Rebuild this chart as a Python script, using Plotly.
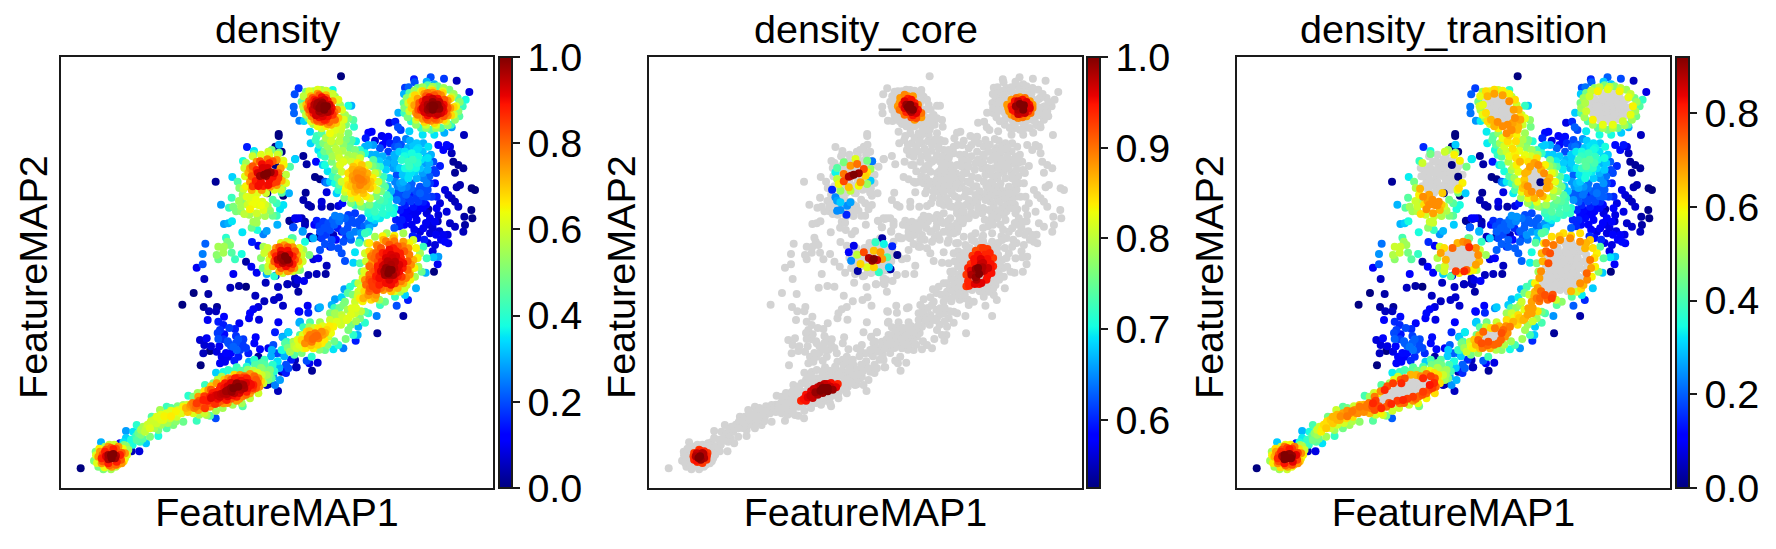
import plotly.graph_objects as go

# Embedding coordinates are in FeatureMAP plot units (both axes run 0-1296).
# Sparse cells: the transition value equals the density value (x, y, value).
sparse_right = [
 (932,1069,.12),(922,1066,.12),(914,1049,.15),(942,1042,.08),(962,1056,.1),(982,1054,.12),(975,1042,.12),(965,1029,.12),
 (987,1034,.15),(1007,1044,.18),(1002,1024,.2),(982,1009,.18),(957,1019,.2),(937,1029,.28),(922,1029,.3),(912,1024,.3),
 (1035,1047,.25),(1047,1042,.3),(1067,1034,.32),(1087,1034,.3),(1102,1024,.35),(1097,994,.3),(1072,994,.38),(1052,1004,.38),
 (1032,1009,.35),(1015,1009,.33),(1002,994,.3),(1022,984,.4),(1042,979,.42),(1062,974,.38),(1032,959,.38),(1052,949,.35),
 (1077,959,.32),(1092,974,.28),(1117,979,.2),(1132,1029,.12),(1147,1014,.12),(1157,1029,.13),(1167,1024,.08),(1172,1004,.05),
 (1177,979,.02),(1192,969,.02),(1207,959,.02),(1182,946,.02),(1119,954,.18),(1137,966,.15),(1087,929,.25),(1067,929,.3),
 (1042,929,.35),(1027,919,.3),(1007,939,.2),(997,959,.28),(992,974,.2),(1002,919,.25),(1037,904,.25),(1012,889,.2),
 (1007,864,.25),(1027,879,.15),(1042,869,.18),(1057,884,.15),(1077,904,.2),(1092,894,.2),(1107,914,.18),(1122,914,.13),
 (1097,874,.2),(1112,874,.18),(1152,894,.08),(1162,879,.07),(1172,869,.05),(1182,859,.05),(1192,844,.06),(1197,909,.04),
 (1187,902,.04),(1232,899,0),(1242,894,0),(1137,854,.08),(1127,839,.1),(1102,836,.03),(1097,824,.08),(1107,809,.1),
 (1122,799,.1),(1132,819,.08),(1157,829,.08),(1032,849,.15),(1017,834,.15),(1037,834,.12),(1062,819,.1),(1067,804,.1),
 (1042,809,.12),(1022,804,.15),(1087,779,.1),(1077,769,.08),(1107,764,.08),(1122,729,.08),(1147,759,.1),(1152,739,.12),
 (1162,734,.1),(1167,794,.06),(1182,784,.06),(1207,769,.05),(1212,789,.03),(1210,814,.03),(1234,809,.01),(1231,834,.01),
 (1052,914,.22),(1022,859,.2),(1072,844,.12),(1087,859,.15),(1057,844,.14),(1077,884,.22),(1097,914,.25),(1017,914,.28),
 (1127,874,.15),(1072,859,.18),(977,974,.3),(1017,959,.33),(1047,959,.38),(1062,949,.33),(1012,1024,.22),(1067,1014,.35),
 (1000,875,.2),(1015,875,.2),(1035,880,.22),(1050,900,.22),(1065,890,.2),(1085,875,.2),(1100,895,.2),(1095,850,.12),
 (1085,840,.12),(1070,830,.1),(1050,830,.1),(1040,820,.1),(1027,820,.12),(1005,805,.15),(1000,780,.2),(1015,785,.15),
 (1030,790,.12),(1052,790,.1),(1060,775,.1),(1095,795,.1),(1105,790,.08),(1115,780,.08),(1130,800,.05),(1135,770,.08),
 (1140,745,.1),(1160,760,.08),(1055,755,.15),(1070,750,.12),(1090,745,.15),(1100,735,.08),(1115,710,.08),(1125,760,.1),
 (1000,1000,.3),(1020,1030,.2),(1040,1020,.3),(1057,1025,.32),(1085,1010,.32),(1110,1000,.3),(1105,975,.3),(1100,955,.3),
 (1085,945,.28),(1105,935,.22),(1125,945,.18),(1100,990,.35),(1000,975,.3),(1010,960,.3),(1025,940,.32),(1045,940,.35),
 (1065,960,.38),(1080,985,.35),(1055,985,.42),(1030,995,.38),(1072,1020,.34),(1010,905,.25),(1022,900,.27),(1040,890,.22),
 (1015,870,.2),(1050,860,.18),(1065,870,.18),(990,890,.3),(980,905,.3),(985,930,.32),(975,955,.33),(955,980,.33),
 (930,1000,.3),(945,1000,.3),(965,995,.3),(985,985,.28),(1042,1000,.36),(1070,975,.4),(1045,965,.42),
]
sparse_middle = [
 (822,817,.25),(837,814,.25),(862,819,.18),(882,824,.18),(902,809,.2),(872,804,.2),(852,809,.22),(897,784,.2),
 (862,794,.2),(922,794,.25),(939,794,.28),(912,764,.38),(922,769,.4),(897,744,.3),(882,769,.25),(847,739,.2),
 (812,744,.2),(767,802,.15),(787,799,.18),(802,794,.2),(807,774,.2),(777,769,.2),(782,749,.18),(725,769,.28),
 (722,809,.05),(732,799,.03),(687,801,.02),(702,809,.1),(712,809,.1),(732,789,.05),(752,749,.03),(807,724,.15),
 (817,759,.05),(842,769,.1),(867,759,.25),(727,864,.04),(742,849,.04),(750,844,.03),(782,859,.08),(782,844,.06),
 (809,844,.03),(832,846,.08),(844,854,.13),(797,887,.08),(734,886,.02),(762,933,.01),(777,926,.01),(792,919,.2),
 (727,996,.02),(737,971,.03),(702,986,.33),(765,979,.13),(785,969,.33),(908,917,0),(840,1235,0),
 (729,621,.1),(702,629,.05),(702,614,.05),(679,611,.02),(712,589,.03),(742,639,.05),(767,642,.05),(794,642,.03),
 (797,667,.05),(740,547,.1),(742,526,.15),(715,529,.08),(777,542,.3),(772,539,.25),(697,782,.2),(725,771,.28),
 (757,749,.3),(747,754,.05),(775,754,.03),(792,732,.2),(777,714,.2),(812,724,.2),(832,719,.2),(842,704,.2),
 (852,681,.2),(882,707,.35),(877,676,.33),(772,689,.1),(757,686,.08),(1130,671,.1),(1119,649,0),(1041,564,.15),
 (1007,547,.2),(1027,516,.03),(949,464,.02),(947,516,.25),(884,442,.15),(737,382,.2),(745,374,.1),(770,376,.08),
 (753,352,.02),(705,362,.05),(682,467,.28),(665,454,.25),
 (847,770,.2),(860,780,.2),(880,795,.2),(895,800,.2),(910,785,.22),(925,780,.3),(900,765,.28),(870,745,.22),
 (855,750,.18),(830,780,.15),(820,790,.22),(835,800,.24),(815,805,.22),(790,780,.2),(775,785,.18),(760,790,.12),
 (795,760,.18),(825,745,.12),
]
sparse_left = [
 (653,1062,0),(653,1056,0),(643,1024,0),(662,1009,0),(464,919,.02),(619,884,0),(667,877,0),(643,969,0),(662,934,0),
 (685,802,.01),(705,807,.05),(697,782,.1),(592,727,.1),(558,1023,.15),(425,702,.25),(425,671,.2),(407,661,.1),
 (430,627,.05),(398,585,0),(442,582,.03),(508,601,.05),(534,606,.03),(555,604,0),(517,642,.1),(555,679,.03),
 (571,664,.1),(587,646,.1),(617,642,.3),(644,637,.08),(614,616,.05),(651,603,.05),(680,611,.05),(705,611,.05),
 (710,624,.08),(583,577,.05),(610,560,.05),(639,564,.06),(654,572,.06),(666,547,.06),(713,530,.12),(592,543,.08),
 (577,536,.1),(567,524,.12),(564,509,.1),(594,505,.08),(652,497,.1),(715,496,.3),(535,494,.1),(364,550,0),
 (428,543,.02),(444,530,.05),(465,530,.05),(468,543,.02),(440,504,.1),(489,514,.12),(472,499,.15),(487,489,.15),
 (477,474,.17),(522,477,.15),(490,461,.13),(417,444,.07),(437,449,.1),(430,429,.07),(472,447,.2),(487,446,.17),
 (525,456,.17),(532,446,.2),(547,446,.18),(502,434,.2),(584,452,.12),(580,434,.12),(597,416,.12),(517,424,.22),
 (527,414,.22),(537,414,.18),(447,411,0),(427,404,.05),(467,409,.08),(482,394,.1),(502,394,.1),(477,374,.1),
 (492,379,.1),(532,394,.15),(520,382,.15),(562,404,.15),(592,394,.03),(419,368,0),(465,346,.33),(487,348,.38),
 (502,354,.4),(527,362,.42),(564,379,.3),(557,364,.4),(622,419,.1),(637,429,.2),(647,404,.2),(662,404,.2),
 (632,414,.3),(667,414,.35),(682,467,.33),(665,452,.3),(642,467,.15),(677,439,.4),(702,384,.05),(707,362,.05),
 (667,354,.12),(662,349,.03),(682,359,.2),(651,291,.05),(622,311,0),(657,324,.28),(637,334,.28),(617,309,.05),
 (642,309,.25),(647,374,.3),(464,209,.2),(212,110,.05),(235,110,.08),(177,134,.1),(120,137,.3),(59,59,0),
 (630,395,.3),(650,380,.35),(670,395,.3),(690,410,.3),(640,350,.4),(620,355,.45),(600,360,.5),(580,385,.4),
 (610,385,.42),(600,375,.45),(635,370,.4),(655,360,.3),(675,370,.2),(690,385,.15),(675,345,.15),
 (500,440,.2),(510,425,.2),(495,405,.12),(510,405,.12),(545,430,.18),(555,420,.18),(525,435,.2),(505,480,.18),
 (475,425,.1),(470,465,.18),(450,425,.08),
]

# Clustered cells: x, y, density, transition (None where the cell counts as core).
cluster_a = [
 (713,1199,.17,.17),(701,1181,.2,.2),(698,1144,.22,.22),(699,1124,.22,.22),(715,1102,.25,.25),(729,1101,.33,.33),(815,1194,.37,.37),
 (862,1147,.38,.38),(871,1147,.3,.3),(735,1189,.5,.5),(757,1190,.55,.55),(782,1194,.55,.55),(803,1186,.5,.5),(822,1174,.52,.52),
 (837,1149,.55,.55),(852,1119,.55,.55),(722,1159,.45,.45),(729,1134,.5,.5),(742,1109,.48,.48),(757,1092,.55,.55),(782,1079,.6,.6),
 (750,1175,.72,.66),(770,1183,.75,.68),(795,1178,.72,.68),(815,1160,.74,.7),(828,1135,.75,.68),(832,1110,.7,.7),(736,1150,.7,.58),
 (745,1125,.74,.62),(760,1105,.75,.66),(780,1098,.76,.7),(810,1090,.72,.7),(825,1095,.7,.68),
 (760,1165,.88,None),(782,1172,.9,None),(800,1162,.88,None),(812,1140,.9,None),(815,1120,.86,None),(750,1145,.88,None),(757,1125,.88,None),
 (775,1112,.9,None),(795,1105,.86,None),(770,1155,.97,None),(785,1155,.98,None),(798,1145,1.0,None),(775,1140,.99,None),(790,1135,1.0,None),
 (800,1128,.96,None),(782,1125,.95,None),(768,1145,.97,None),
 (728,1175,.58,.58),(745,1190,.62,.62),(770,1195,.62,.62),(795,1192,.6,.6),(815,1182,.6,.6),(832,1165,.62,.62),(843,1135,.62,.66),(848,1105,.62,.68),
 (726,1145,.58,.56),(735,1120,.58,.58),(750,1100,.62,.62),(770,1085,.64,.66),(795,1085,.65,.7),(820,1080,.62,.68),(838,1092,.6,.66),(840,1075,.6,.66),
 (755,1170,.82,None),(775,1178,.82,None),(795,1170,.82,None),(808,1150,.82,None),(820,1128,.8,None),(822,1105,.8,None),(745,1135,.82,None),
 (768,1105,.82,None),(785,1100,.82,None),(805,1098,.8,None),(744,1160,.8,None),(765,1160,.92,None),(790,1165,.92,None),(805,1150,.93,None),
 (808,1130,.92,None),(755,1135,.93,None),(765,1118,.93,None),(785,1115,.92,None),(800,1115,.9,None),(780,1148,.99,None),(790,1145,1,None),
 (775,1130,.97,None),(760,1150,.95,None),
 (765,1140,.93,None),(780,1160,.95,None),(795,1135,.96,None),(770,1125,.93,None),(808,1120,.86,None),(790,1105,.88,None),(750,1155,.85,None),
 (740,1140,.78,None),(752,1115,.78,None),(770,1100,.78,None),(815,1110,.8,None),(800,1092,.75,None),
]
cluster_b = [
 (1059,1226,.15,.15),(1061,1217,.2,.2),(1109,1232,.2,.2),(1097,1219,.3,.3),(1120,1211,.3,.3),(1149,1228,.18,.18),(1187,1222,.05,.05),
 (1225,1188,.08,.08),(1032,1201,.18,.18),(1043,1202,.22,.22),(1029,1182,.3,.3),(1209,1059,.05,.05),(1012,1126,.3,.3),(985,1096,.08,.08),
 (1003,1099,.15,.15),(1011,1082,.2,.2),(1019,1074,.18,.18),(1214,1165,.38,.38),(1045,1070,.33,.33),(1085,1060,.35,.35),(1120,1060,.35,.35),
 (1150,1066,.3,.3),(1172,1082,.28,.28),
 (1045,1185,.45,.45),(1070,1200,.48,.48),(1100,1208,.45,.45),(1130,1205,.47,.47),(1165,1195,.5,.5),(1190,1170,.45,.45),(1205,1145,.42,.42),
 (1195,1115,.45,.45),(1170,1090,.42,.42),(1140,1080,.45,.45),(1110,1075,.45,.45),(1080,1080,.42,.42),(1050,1100,.4,.4),(1030,1125,.42,.42),
 (1028,1155,.45,.45),(1055,1175,.6,.55),(1080,1190,.62,.6),(1110,1196,.6,.58),(1145,1190,.62,.6),(1172,1172,.6,.58),(1185,1145,.62,.6),
 (1178,1120,.6,.58),(1155,1100,.6,.55),(1125,1090,.62,.58),(1095,1090,.6,.58),(1065,1105,.6,.6),(1045,1130,.6,.55),(1042,1155,.6,.52),
 (1070,1168,.74,None),(1090,1182,.75,None),(1115,1186,.75,None),(1140,1178,.76,None),(1160,1162,.76,None),(1168,1140,.75,None),(1160,1118,.76,None),
 (1135,1105,.75,None),(1110,1102,.76,None),(1085,1108,.75,None),(1065,1125,.75,None),(1060,1148,.74,None),
 (1085,1160,.88,None),(1105,1172,.9,None),(1130,1168,.9,None),(1148,1150,.9,None),(1148,1130,.9,None),(1125,1118,.9,None),(1100,1118,.9,None),
 (1080,1135,.88,None),(1100,1150,.96,None),(1115,1158,.98,None),(1130,1150,.99,None),(1135,1138,.98,None),(1115,1135,1,None),(1100,1135,.97,None),
 (1120,1145,1,None),
 (1037,1170,.52,.5),(1060,1192,.54,.54),(1085,1202,.54,.54),(1115,1204,.54,.54),(1148,1200,.54,.54),(1178,1182,.54,.54),(1196,1158,.52,.5),
 (1192,1130,.52,.5),(1182,1105,.52,.5),(1160,1088,.52,.5),(1125,1080,.54,.52),(1095,1080,.52,.5),(1065,1090,.52,.5),(1040,1112,.5,.5),(1030,1140,.5,.5),
 (1062,1178,.68,None),(1085,1190,.68,None),(1115,1192,.68,None),(1145,1184,.68,None),(1168,1168,.68,None),(1178,1142,.68,None),(1170,1118,.68,None),
 (1148,1105,.68,None),(1120,1095,.68,None),(1090,1098,.68,None),(1070,1112,.68,None),(1052,1140,.68,None),(1050,1160,.68,None),
 (1075,1155,.82,None),(1095,1175,.82,None),(1120,1178,.82,None),(1150,1165,.82,None),(1160,1140,.82,None),(1148,1115,.82,None),(1120,1110,.82,None),
 (1095,1112,.82,None),(1072,1135,.82,None),(1090,1150,.92,None),(1105,1165,.92,None),(1125,1160,.92,None),(1140,1145,.93,None),(1140,1125,.92,None),
 (1115,1125,.93,None),(1090,1128,.92,None),(1108,1145,.99,None),(1125,1138,.98,None),
 (1085,1140,.93,None),(1095,1165,.93,None),(1115,1168,.94,None),(1135,1158,.94,None),(1145,1140,.92,None),(1130,1122,.94,None),(1105,1125,.94,None),
 (1075,1145,.82,None),(1100,1185,.78,None),(1130,1182,.78,None),(1155,1150,.8,None),(1155,1125,.8,None),(1125,1105,.8,None),(1100,1105,.8,None),
 (1070,1120,.78,None),(1115,1148,1,None),(1105,1140,.98,None),
]
stream_c = [
 (847,1114,.55,.62),(862,1109,.5,.58),(877,1104,.45,.48),(879,1084,.4,.45),(842,1084,.6,.66),(822,1074,.62,.7),(807,1064,.64,.7),(837,1059,.58,.6),
 (862,1064,.5,.5),(872,1044,.45,.45),(782,1064,.45,.48),(767,1056,.42,.42),(747,1069,.33,.33),(749,1034,.33,.33),(764,1044,.42,.42),(787,1034,.5,.5),
 (817,1034,.55,.58),(847,1029,.52,.52),(867,1019,.48,.48),(772,1014,.35,.35),(807,1009,.52,.55),(832,1004,.58,.6),(862,999,.55,.58),(882,1014,.5,.5),
 (897,1014,.4,.4),(912,1004,.38,.38),(792,994,.42,.42),(812,979,.5,.52),(792,969,.38,.38),(822,954,.48,.5),(847,979,.62,.66),(837,969,.62,.6),
 (872,979,.6,.62),(897,989,.6,.62),(922,969,.6,.6),(942,944,.6,.58),(952,919,.6,.58),(947,894,.6,.56),(927,869,.6,.58),(897,859,.6,.58),
 (872,869,.6,.58),(852,889,.6,.58),(842,919,.6,.58),(842,949,.6,.58),
 (877,964,.7,.68),(902,969,.7,.7),(919,944,.72,.7),(929,919,.7,.68),(927,899,.7,.68),(907,884,.7,.7),(882,889,.7,.7),(862,909,.68,.66),(862,944,.68,.66),
 (887,944,.76,None),(902,939,.76,None),(907,919,.77,None),(897,909,.77,None),(882,924,.76,None),(892,929,.78,None),
 (957,964,.4,.4),(937,984,.45,.45),(967,934,.42,.42),(972,904,.45,.45),(977,879,.42,.42),(957,864,.45,.45),(907,844,.45,.45),(882,849,.42,.42),
 (832,894,.4,.4),(822,914,.38,.38),(807,919,.33,.33),(797,916,.25,.25),(827,884,.33,.33),(922,834,.4,.4),(942,829,.42,.42),(962,844,.4,.4),
 (982,854,.4,.4),(997,824,.38,.38),(942,804,.33,.33),(957,809,.36,.36),(977,819,.38,.38),(992,834,.38,.38),(922,824,.38,.38),
 (855,1090,.5,.55),(830,1090,.62,.66),(815,1058,.6,.64),(795,1050,.56,.58),(775,1030,.42,.42),(800,1025,.54,.56),(835,1040,.58,.62),(855,1045,.5,.52),
 (825,1018,.58,.62),(845,1012,.56,.58),(810,1040,.6,.62),(790,1010,.48,.5),(835,990,.6,.62),(815,995,.55,.58),(855,985,.58,.6),(880,995,.56,.56),
 (900,1000,.5,.5),(868,1035,.45,.46),(885,1040,.36,.36),(780,1000,.38,.38),(800,950,.35,.35),(815,935,.42,.42),(830,930,.48,.5),(828,965,.52,.54),
 (935,965,.5,.5),(945,965,.45,.45),(950,945,.52,.52),(962,915,.46,.46),(960,890,.5,.5),(945,875,.5,.5),(925,850,.5,.5),(900,845,.5,.5),(870,855,.5,.5),
 (850,870,.5,.5),(835,910,.46,.46),(860,925,.65,.64),(870,950,.65,.66),(890,975,.66,.68),(910,955,.66,.66),(935,930,.66,.66),(935,905,.66,.66),
 (915,875,.66,.66),(890,870,.66,.66),(870,885,.66,.66),(855,900,.64,.64),(875,925,.72,None),(895,955,.73,None),(915,930,.73,None),(915,905,.73,None),
 (890,895,.73,None),(870,905,.7,.7),(935,845,.42,.42),(950,850,.42,.42),(970,860,.42,.42),(985,840,.4,.4),(965,825,.4,.4),(945,815,.38,.38),
 (930,810,.36,.36),(1000,840,.36,.36),(985,870,.38,.38),
 (875,955,.72,None),(890,950,.74,None),(905,950,.75,None),(915,925,.75,None),(920,915,.72,None),(905,895,.72,None),(885,905,.74,None),(875,935,.74,None),(900,925,.78,None),
]
cluster_e = [
 (654,1030,.3,.3),(579,1011,.35,.35),(579,1002,.45,.45),(546,981,.38,.38),(622,1009,.6,.55),(632,1014,.5,.5),(654,1006,.5,.5),(667,982,.62,.6),
 (703,987,.3,.3),(687,964,.45,.45),(514,933,.33,.33),(530,919,.45,.45),(548,898,.6,.66),(512,871,.42,.42),(480,850,.28,.28),(504,841,.42,.42),
 (517,844,.5,.5),(534,861,.55,.55),(525,830,.5,.5),(550,822,.58,.62),(557,874,.62,.7),(570,861,.62,.68),(604,859,.62,.7),(592,849,.62,.7),
 (567,836,.65,.7),(587,824,.6,.68),(607,834,.62,.66),(612,816,.55,.52),(627,832,.52,.52),(635,817,.48,.46),(647,817,.42,.42),(647,854,.42,.42),
 (667,849,.35,.35),(657,836,.35,.35),(664,899,.5,.62),(662,886,.45,.45),(684,884,.3,.3),(489,792,.28,.28),(502,794,.3,.3),(513,800,.35,.35),
 (577,799,.55,.55),(587,796,.55,.55),(572,781,.48,.48),(589,774,.38,.38),(607,761,.25,.25),(617,771,.28,.28),(649,790,.3,.3),(544,767,.35,.35),
 (433,733,.22,.22),(573,738,.15,.15),(495,751,.4,.4),(499,739,.5,.5),(472,724,.55,.55),(489,724,.55,.55),(507,729,.5,.5),(467,699,.52,.52),
 (487,706,.55,.55),(512,706,.45,.45),(542,702,.38,.38),(522,686,.42,.42),(472,686,.48,.48),
 (562,946,.72,None),(567,959,.75,None),(587,979,.75,None),(619,986,.78,None),(647,984,.75,None),(659,959,.75,None),(662,922,.72,None),(647,909,.75,None),
 (627,904,.75,None),(602,894,.75,None),(572,894,.72,None),(567,919,.75,None),
 (587,954,.88,None),(603,971,.9,None),(625,974,.88,None),(635,934,.9,None),(584,921,.88,None),(592,906,.9,None),(607,906,.88,None),(622,909,.9,None),
 (647,919,.85,None),(597,936,.97,None),(609,940,1.0,None),(619,944,1.0,None),(629,947,.98,None),(615,936,.98,None),
 (575,880,.62,.68),(585,865,.64,.7),(600,848,.64,.7),(612,850,.6,.64),(575,850,.64,.7),(560,850,.6,.62),(545,860,.52,.52),(540,845,.55,.55),(540,830,.52,.52),
 (565,820,.55,.55),(590,815,.55,.55),(620,845,.55,.55),(635,865,.45,.45),(545,880,.55,.6),(535,900,.52,.52),(550,960,.6,None),(555,975,.55,.55),
 (575,995,.6,None),(600,1000,.62,None),(625,998,.62,None),(650,1000,.6,.6),(668,970,.65,None),(675,940,.58,None),(675,915,.62,.6),(660,895,.6,.58),
 (640,895,.62,None),(615,885,.6,.64),(590,885,.62,None),(555,905,.65,None),(552,935,.62,None),(575,965,.82,None),(597,980,.82,None),(635,980,.82,None),
 (652,945,.82,None),(652,930,.85,None),(635,915,.85,None),(575,905,.85,None),(572,935,.82,None),(590,945,.92,None),(575,950,.78,None),(605,960,.92,None),
 (620,960,.92,None),(640,945,.92,None),(625,925,.9,None),(600,918,.9,None),
]
cluster_f = [
 (632,700,.72,None),(645,720,.75,.74),(670,728,.75,None),(695,722,.75,.8),(708,700,.75,None),(712,680,.72,None),(700,660,.75,None),(680,650,.75,.8),
 (655,650,.72,.78),(635,665,.72,None),(645,695,.88,None),(660,712,.9,None),(680,712,.9,None),(695,695,.88,None),(695,672,.88,None),(675,665,.9,None),
 (652,672,.88,None),(660,690,.97,None),(672,695,1.0,None),(680,685,1.0,None),(668,682,.98,None),
 (607,724,.55,.55),(692,749,.4,.4),(677,739,.6,.7),(695,749,.45,.45),(732,739,.38,.38),(727,714,.55,.55),(745,699,.5,.5),(722,699,.6,.7),
 (717,654,.5,.52),(707,654,.55,.6),(687,654,.72,.74),(600,690,.52,.52),(605,660,.48,.48),(620,650,.55,.55),(640,635,.4,.42),
 (620,720,.6,.62),(625,685,.62,.66),(622,665,.6,.56),(660,735,.62,.66),(690,735,.62,.72),(715,720,.62,.7),(725,680,.6,.66),(715,670,.62,.68),(665,645,.6,.62),
 (695,650,.6,.6),(610,705,.6,.68),(640,705,.82,None),(655,722,.82,None),(680,722,.82,None),(702,710,.82,None),(702,685,.82,None),(690,660,.82,None),(660,660,.82,None),
 (640,680,.82,None),(660,700,.94,None),(685,700,.92,None),(650,685,.94,None),(665,675,.95,None),(685,675,.94,None),
]
cluster_h = [
 (982,644,1,None),(992,654,1,None),(1002,679,.95,None),(987,674,.95,None),(972,639,.97,None),(997,639,.96,None),
 (942,614,.85,None),(967,619,.88,None),(1002,614,.85,None),(1022,634,.85,None),(1027,674,.9,None),(1017,704,.88,None),(997,719,.88,None),(977,704,.9,None),
 (962,679,.88,None),(952,654,.88,None),(932,619,.85,None),(927,599,.82,None),(947,594,.85,None),
 (912,624,.76,None),(922,579,.75,.76),(907,569,.72,.74),(942,569,.72,.78),(967,594,.75,None),(1027,614,.72,.7),(1047,644,.7,.74),(1057,684,.72,.72),
 (1042,719,.75,.66),(1027,739,.74,.7),(997,749,.72,.7),(967,744,.72,.7),(947,729,.75,.72),(937,704,.75,.76),(932,674,.75,.76),
 (912,704,.6,.66),(919,734,.55,.62),(942,754,.55,.62),(977,764,.55,.62),(1027,764,.55,.62),(1057,744,.6,.64),(1077,704,.55,.6),(1072,664,.55,.6),
 (1062,634,.55,.6),(1037,609,.6,.66),(1017,589,.55,.55),(892,589,.6,.66),(892,614,.58,.6),
 (894,736,.42,.42),(912,764,.42,.42),(897,674,.45,.45),(902,649,.5,.5),(1087,724,.42,.42),(1097,689,.42,.42),(1082,649,.48,.48),(1094,646,.3,.3),
 (1117,692,.32,.32),(1132,694,.28,.28),(1065,599,.3,.3),(1032,579,.33,.33),(1002,574,.42,.42),
 (882,614,.4,.4),(867,604,.4,.4),(850,596,.28,.28),(822,566,.28,.28),(842,572,.33,.33),(852,559,.5,.55),(882,559,.6,.68),(897,569,.66,.72),
 (872,539,.62,.68),(847,549,.5,.5),(807,524,.5,.5),(822,524,.55,.55),(842,519,.58,.62),(862,509,.62,.66),(882,524,.6,.68),(897,509,.5,.5),
 (912,496,.4,.4),(892,484,.3,.3),(862,474,.5,.5),(854,447,.5,.5),(877,459,.4,.4),(890,459,.3,.3),(912,529,.45,.45),(957,549,.42,.42),
 (972,559,.48,.48),(922,524,.4,.4),(812,549,.3,.3),
 (975,660,.98,None),(985,655,1,None),(990,670,.96,None),(1000,660,.95,None),(1010,660,.92,None),(1015,680,.9,None),(1005,695,.92,None),(990,700,.92,None),
 (975,690,.92,None),(970,670,.93,None),(960,650,.92,None),(955,630,.9,None),(985,625,.92,None),(1010,635,.88,None),(945,635,.88,None),(940,650,.82,None),
 (925,640,.8,None),(950,680,.82,None),(945,705,.8,None),(960,720,.82,None),(985,730,.82,None),(1010,725,.82,None),(1030,710,.82,None),(1040,680,.82,None),
 (1040,655,.8,None),(1035,630,.78,None),(1010,600,.72,None),(985,600,.8,None),(960,600,.8,None),(945,580,.75,.76),(925,590,.8,None),
 (1000,757,.65,.62),(965,755,.65,.64),(1045,735,.65,.66),(1065,720,.65,.62),(1070,690,.65,.62),(1060,660,.65,.68),(1048,625,.65,.7),(925,735,.66,.72),
 (925,710,.68,.74),(915,680,.6,.66),(910,650,.62,.7),(905,630,.62,.68),(900,600,.62,.68),(910,590,.68,.74),(930,565,.68,.74),(955,565,.55,.55),
 (1000,590,.62,.66),(1030,598,.6,.62),(860,585,.45,.45),(875,580,.5,.55),(890,575,.6,.66),(905,560,.65,.72),(885,540,.62,.68),(900,530,.58,.62),
 (860,535,.55,.58),(835,540,.48,.48),(820,540,.42,.42),(850,505,.6,.64),(870,520,.62,.68),(830,510,.55,.58),(815,510,.5,.5),(885,500,.55,.55),(870,490,.5,.5),
 (945,625,.86,None),(960,640,.9,None),(975,615,.9,None),(990,610,.9,None),(1000,625,.9,None),(1015,650,.9,None),(1025,660,.88,None),(1020,690,.88,None),
 (1005,710,.88,None),(985,715,.9,None),(965,705,.88,None),(955,695,.85,None),(950,665,.88,None),(965,665,.92,None),(980,680,.95,None),(1000,685,.92,None),
 (1015,670,.92,None),(1005,645,.93,None),(985,640,.97,None),(970,650,.97,None),(995,690,.93,None),(985,705,.9,None),(935,605,.85,None),(945,600,.85,None),
 (955,610,.88,None),(915,610,.8,None),(925,625,.82,None),(935,650,.8,None),(925,665,.8,None),(940,690,.8,None),(930,695,.78,None),(950,725,.78,None),
 (975,740,.78,None),(1000,740,.78,None),(1025,725,.78,None),(1045,700,.78,None),(1050,670,.76,None),(1045,640,.76,None),(1020,620,.78,None),(990,590,.7,None),
]
cluster_i = [
 (747,459,.78,None),(762,464,.78,None),(782,469,.76,None),(772,449,.78,None),(752,439,.78,.76),(732,434,.76,.76),(762,454,.8,None),
 (722,444,.68,.74),(737,469,.68,.74),(772,479,.66,.72),(797,474,.68,.74),(817,484,.65,.72),(802,454,.6,.7),(782,434,.66,.74),(757,419,.65,.66),
 (727,419,.62,.64),(707,419,.6,.6),(697,439,.55,.55),(717,459,.45,.45),(727,482,.42,.42),(747,497,.45,.45),(777,497,.55,.55),(807,504,.6,.62),
 (827,499,.62,.66),(857,504,.62,.66),(792,414,.48,.48),(817,416,.35,.35),(832,429,.4,.4),(847,419,.25,.25),(687,409,.55,.55),(672,434,.45,.45),
 (662,414,.38,.38),(752,394,.4,.4),(717,499,.3,.3),
 (740,450,.78,None),(755,447,.8,None),(768,457,.8,None),(785,460,.74,None),(792,465,.72,.76),(745,470,.7,None),(725,458,.62,.66),(710,445,.62,.64),
 (735,420,.66,.72),(750,428,.7,.74),(770,430,.68,.74),(790,445,.66,.74),(810,465,.64,.7),(805,485,.66,.7),(785,485,.62,.66),(760,480,.6,.62),(745,482,.55,.55),
 (700,425,.58,.58),(715,430,.62,.66),(820,440,.48,.5),(800,430,.52,.52),(775,415,.52,.52),(722,405,.5,.5),(700,400,.45,.45),(680,420,.5,.5),(690,420,.5,.5),
 (840,490,.6,.62),(845,510,.6,.64),
]
tail_j = [
 (487,284,.95,None),(502,294,.97,None),(517,299,1,None),(532,304,1,None),(547,309,.97,None),(512,289,.98,None),(497,282,.95,None),(477,274,.93,None),(527,314,.98,None),
 (407,254,.85,.8),(427,264,.88,None),(447,274,.88,None),(467,289,.88,None),(492,314,.88,.8),(522,329,.88,None),(557,329,.88,.8),(577,309,.88,.82),(557,289,.88,.78),
 (527,274,.88,.78),(497,264,.88,.8),(462,252,.86,.8),(432,239,.85,.8),
 (387,244,.74,.72),(412,234,.74,.76),(447,244,.75,.74),(487,254,.75,.72),(527,262,.75,.7),(567,284,.75,.74),(595,304,.75,.74),(592,329,.75,.76),(567,342,.75,.72),
 (537,339,.75,.66),(502,329,.75,.76),(467,314,.75,.78),(442,294,.75,.8),(412,274,.75,.72),
 (367,244,.65,.72),(362,224,.62,.7),(397,224,.62,.66),(437,219,.55,.55),(542,254,.55,.58),(567,269,.58,.6),(592,284,.6,.62),(607,314,.6,.62),(602,339,.6,.62),(577,352,.58,.58),
 (482,334,.55,.55),(457,314,.5,.5),(432,309,.42,.42),(422,284,.55,.58),(397,274,.5,.5),(382,277,.4,.4),(447,217,.45,.45),(407,202,.42,.42),
 (612,369,.45,.45),(627,354,.5,.5),(617,339,.55,.55),(632,329,.45,.45),(622,324,.5,.5),(582,369,.45,.45),
 (367,249,.55,.66),(352,234,.6,.7),(337,224,.62,.7),(317,224,.62,.68),(317,244,.42,.42),(297,234,.55,.55),(272,214,.45,.45),(287,214,.62,.66),
 (267,194,.58,.62),(307,204,.62,.66),(327,209,.6,.62),(347,214,.6,.62),(367,199,.48,.48),(337,189,.5,.5),(317,179,.45,.45),(292,156,.38,.38),
 (292,174,.5,.5),(252,169,.58,.6),(232,164,.48,.48),(247,184,.55,.55),(267,179,.62,.64),(287,194,.6,.64),(227,189,.4,.4),(217,169,.35,.35),(227,144,.45,.45),
 (255,134,.32,.32),(237,139,.42,.42),(267,154,.5,.5),(195,171,.28,.28),(187,137,.35,.35),(202,124,.4,.4),
 (440,262,.88,None),(470,268,.9,None),(500,275,.92,None),(520,285,.95,None),(540,295,.95,None),(560,300,.9,None),(565,315,.9,None),(540,322,.9,None),(510,315,.92,None),
 (480,305,.88,None),(455,285,.88,None),(430,275,.85,None),(415,262,.82,.78),(395,255,.78,.72),(375,240,.72,.7),(380,228,.7,.7),(400,240,.78,.72),(425,245,.8,.76),
 (455,255,.8,.76),(480,262,.82,.78),(510,268,.82,.78),(545,275,.78,.74),(575,295,.8,.76),(590,315,.82,.8),(580,335,.8,.78),(550,335,.8,.7),(520,340,.68,.66),(490,325,.7,.74),
 (470,325,.58,.58),(450,305,.7,.76),(430,290,.66,.7),(410,285,.55,.55),(605,330,.55,.56),(590,345,.62,.62),(560,355,.52,.52),(540,352,.45,.45),(520,350,.42,.42),(605,355,.5,.5),
 (625,340,.5,.5),(600,360,.52,.52),(545,245,.45,.45),(515,250,.55,.55),(485,240,.55,.55),(465,232,.55,.55),(430,225,.6,.6),(415,220,.55,.55),
 (357,225,.62,.7),(345,230,.65,.72),(330,232,.62,.7),(330,215,.66,.72),(310,215,.65,.7),(300,220,.62,.66),(300,205,.62,.66),(280,205,.6,.64),(270,200,.6,.62),(260,190,.6,.62),
 (255,178,.58,.6),(240,175,.55,.55),(280,180,.55,.55),(300,190,.55,.56),(345,200,.52,.52),(320,195,.55,.56),(330,240,.45,.45),(350,245,.5,.55),(380,250,.6,.66),(240,160,.5,.5),
 (225,155,.42,.42),(210,145,.38,.38),(245,148,.45,.45),(215,130,.38,.38),(195,150,.33,.33),
 (450,270,.92,None),(465,278,.92,None),(480,282,.94,None),(495,290,.97,None),(510,300,.98,None),(525,308,.98,None),(540,312,.95,None),(555,315,.92,None),(570,310,.9,None),
 (575,300,.86,None),(550,300,.96,None),(535,285,.92,None),(515,278,.9,None),(490,270,.88,None),(470,278,.93,None),(455,275,.9,None),(500,305,.92,None),(490,300,.9,None),
 (475,295,.88,None),(450,295,.82,None),(510,325,.82,None),(530,330,.85,None),(545,330,.85,None),(560,325,.85,None),(585,325,.82,None),(420,255,.82,None),(405,245,.8,.76),
 (390,250,.76,.72),(445,255,.82,None),(470,255,.82,None),(500,255,.75,.74),(535,268,.75,.74),(555,280,.8,.76),(585,300,.82,.78),(600,320,.68,.62),
]
cluster_k = [
 (104,109,.5,.5),(99,82,.5,.5),(112,64,.5,.5),(127,56,.5,.5),(164,64,.58,.58),(192,89,.58,.58),(202,114,.55,.55),(189,129,.5,.5),(132,124,.55,.55),
 (117,109,.75,.68),(142,124,.75,.72),(172,124,.75,.72),(192,104,.75,.7),(182,74,.75,.7),(152,64,.75,.68),(122,74,.75,.7),(112,94,.75,.66),
 (132,109,.88,.8),(157,116,.88,.82),(177,99,.88,.84),(167,79,.88,.84),(142,74,.88,.82),(122,89,.88,.8),
 (142,99,.97,.92),(157,102,1,.91),(152,89,1,.92),(142,86,.96,.92),(162,89,.97,.92),
 (125,100,.82,.76),(135,115,.82,.76),(150,120,.82,.78),(165,118,.82,.78),(182,105,.82,.78),(180,85,.82,.78),(165,70,.8,.76),(145,68,.8,.74),(125,80,.82,.76),
 (115,118,.65,.62),(105,98,.62,.6),(108,75,.62,.6),(130,62,.64,.62),(150,56,.55,.55),(170,70,.68,.66),(188,80,.66,.64),(198,100,.62,.6),(185,118,.64,.62),
 (160,130,.6,.6),(145,130,.58,.58),(195,125,.52,.52),(150,98,1,.9),(135,95,.92,.88),(165,97,.95,.9),
]

# Cells flagged as core, with their own value range: x, y, value.
core_a = [
 (750,1155,.88),(775,1175,.88),(805,1130,.89),(815,1112,.88),(795,1105,.88),(760,1130,.89),(758,1150,.94),(775,1168,.94),(795,1155,.94),
 (805,1135,.95),(790,1118,.95),(770,1128,.94),(770,1150,.99),(782,1150,1),(790,1135,1),(780,1135,.99),(775,1142,1),(785,1128,.98),
 (745,1145,.88),(752,1170,.88),(765,1180,.89),(790,1175,.88),(805,1150,.89),(815,1125,.9),(800,1110,.92),(785,1112,.92),(765,1120,.9),(750,1135,.9),
 (765,1140,.96),(765,1160,.96),(785,1165,.95),(795,1145,.97),(800,1125,.96),
]
core_b = [
 (1075,1140,.88),(1085,1165,.88),(1110,1172,.88),(1140,1160,.88),(1148,1140,.89),(1130,1115,.88),(1105,1110,.89),(1085,1120,.88),
 (1085,1145,.94),(1095,1160,.95),(1118,1165,.95),(1138,1150,.95),(1135,1130,.94),(1110,1122,.95),(1095,1130,.94),
 (1098,1145,.99),(1110,1152,1),(1122,1148,1),(1120,1135,1),(1105,1135,.98),
 (1072,1150,.88),(1078,1130,.88),(1100,1170,.9),(1125,1170,.9),(1148,1150,.88),(1142,1125,.9),(1118,1112,.9),(1095,1115,.9),(1088,1135,.95),
 (1105,1160,.97),(1130,1158,.96),(1140,1140,.96),(1125,1125,.97),(1105,1122,.97),
]
core_e = [
 (548,895,.6),(558,872,.65),(563,862,.66),(573,857,.68),(603,857,.66),(593,847,.65),(573,834,.65),(563,832,.65),(591,820,.6),
 (558,947,.7),(563,960,.74),(583,977,.76),(618,987,.82),(653,982,.76),(668,980,.64),(663,957,.78),(663,922,.68),(653,912,.78),
 (628,907,.83),(603,892,.8),(573,892,.78),(568,912,.83),(563,927,.8),(598,902,.86),(648,937,.85),(653,947,.84),(583,942,.9),
 (603,967,.88),(623,972,.9),(643,957,.92),(583,920,.92),(633,917,.88),(598,934,.98),(613,940,1),(628,944,.99),(605,937,.98),
]
core_f = [
 (743,699,.53),(625,651,.54),(723,656,.54),(598,707,.58),(613,727,.57),(698,749,.54),(728,725,.6),(605,682,.65),(678,737,.72),
 (703,732,.7),(713,692,.74),(718,662,.68),(688,647,.72),(653,662,.82),(623,700,.8),(633,672,.85),(673,712,.86),(693,707,.88),
 (643,707,.92),(698,687,.88),(673,662,.85),(658,690,.98),(673,687,1),(668,682,.99),(683,684,.97),
]
core_h = [
 (993,720,.92),(1013,717,.93),(978,712,.92),(968,697,.93),(973,687,.95),(963,672,.93),(993,687,.96),(1013,687,.95),(1023,672,.95),(1023,657,.95),
 (1013,637,.95),(988,612,.95),(958,607,.94),(963,652,.96),(998,662,.98),(978,657,.99),(988,642,1),(978,632,.99),(993,672,.97),(1003,652,.97),
 (1000,720,.93),(1020,705,.94),(1030,690,.93),(1030,665,.94),(1025,645,.95),(1010,625,.95),(995,615,.96),(975,612,.96),(955,620,.94),(950,640,.93),
 (955,660,.94),(975,675,.95),(985,660,1),(995,650,.98),(965,640,.98),(985,700,.95),(1005,700,.94),(1000,675,.97),(980,625,.98),(1015,660,.97),(950,605,.93),
]
core_j = [
 (463,267,.95),(483,277,.97),(498,287,.99),(513,292,1),(528,300,1),(543,304,.97),(551,307,.95),(533,312,.96),(513,307,.98),(493,297,.97),
 (470,262,.95),(475,272,.96),(490,270,.97),(505,280,.98),(520,285,.99),(535,290,1),(550,295,.99),(560,302,.96),(565,312,.94),(545,315,.95),
 (525,312,.97),(505,302,.97),(485,290,.96),(470,280,.95),(455,262,.94),(520,300,1),(535,300,1),
]
core_k = [
 (133,95,.93),(153,112,.94),(173,95,.94),(158,77,.92),(143,82,.95),(143,104,.97),(163,102,.98),(153,95,1),(148,90,1),
 (135,105,.93),(150,115,.93),(165,110,.94),(175,105,.93),(172,85,.93),(160,75,.93),(145,78,.93),(135,85,.94),(140,95,.98),(155,85,.99),(165,90,.98),(160,105,.98),
]

panel_titles = ["density", "density_core", "density_transition"]
density_ticks = [0, 0.2, 0.4, 0.6, 0.8, 1.0]
core_ticks = [0.6, 0.7, 0.8, 0.9, 1.0]
transition_ticks = [0, 0.2, 0.4, 0.6, 0.8]

JET = [[0, "#000080"], [.11, "#0000ff"], [.125, "#0000ff"], [.34, "#00dbff"], [.35, "#00e5f7"], [.375, "#14ffe2"],
       [.64, "#eeff08"], [.65, "#f7f500"], [.66, "#ffec00"], [.89, "#ff1300"], [.91, "#e80000"], [1, "#800000"]]
GREY = "#d3d3d3"
INK = "#1a1a1a"
FONT = "Liberation Sans, Arial, sans-serif"
W, H = 1776, 549
SIZE = 8
LABEL = 39.5

sparse_rows = sparse_right + sparse_middle + sparse_left
cluster_rows = cluster_a + cluster_b + stream_c + cluster_e + cluster_f + cluster_h + cluster_i + tail_j + cluster_k
core_rows = sorted(core_a + core_b + core_e + core_f + core_h + core_j + core_k, key=lambda r: r[2])

density_rows = sorted([(x, y, v) for x, y, v in sparse_rows] + [(x, y, d) for x, y, d, _ in cluster_rows], key=lambda r: r[2])
all_x = [r[0] for r in density_rows]
all_y = [r[1] for r in density_rows]
transition_rows = sorted([(x, y, v) for x, y, v in sparse_rows] + [(x, y, t) for x, y, _, t in cluster_rows if t is not None], key=lambda r: r[2])
grey_rows = [(x, y) for x, y, _, t in cluster_rows if t is None]

# Frame of each panel and its colour bar, in page pixels.
frames = [(61, 493, 499), (649, 1082, 1087), (1237, 1670, 1676)]
TOP, BOTTOM = 57, 488


def colorbar(left, ticks):
    return dict(x=left / W, xanchor="left", xpad=0, ypad=0, y=1 - (TOP + BOTTOM) / 2 / H, yanchor="middle",
                len=(BOTTOM - TOP) / H, lenmode="fraction", thickness=13, thicknessmode="pixels",
                outlinecolor=INK, outlinewidth=2, ticks="outside", ticklen=7, tickwidth=2, tickcolor=INK,
                tickvals=ticks, ticktext=[f"{t:.1f}" for t in ticks], tickfont=dict(family=FONT, size=LABEL, color="#000000"))


def colored(rows, lo, hi, axis, left, ticks):
    return go.Scatter(x=[r[0] for r in rows], y=[r[1] for r in rows], mode="markers", xaxis=f"x{axis}", yaxis=f"y{axis}",
                      showlegend=False, hoverinfo="skip",
                      marker=dict(size=SIZE, color=[r[2] for r in rows], colorscale=JET, cmin=lo, cmax=hi, line=dict(width=0),
                                  showscale=True, colorbar=colorbar(left, ticks)))


def grey(xs, ys, axis):
    return go.Scatter(x=xs, y=ys, mode="markers", xaxis=f"x{axis}", yaxis=f"y{axis}", showlegend=False, hoverinfo="skip",
                      marker=dict(size=SIZE, color=GREY, line=dict(width=0)))


fig = go.Figure([
    colored(density_rows, 0, 1, "", frames[0][2], density_ticks),
    grey(all_x, all_y, 2),
    colored(core_rows, 0.525, 1, 2, frames[1][2], core_ticks),
    grey([r[0] for r in grey_rows], [r[1] for r in grey_rows], 3),
    colored(transition_rows, 0, 0.92, 3, frames[2][2], transition_ticks),
])

layout = dict(width=W, height=H, margin=dict(l=0, r=0, t=0, b=0), paper_bgcolor="white", plot_bgcolor="white",
              font=dict(family=FONT, color="#000000"), annotations=[])
for i, (left, right, _) in enumerate(frames):
    suffix = "" if i == 0 else str(i + 1)
    common = dict(showgrid=False, zeroline=False, showticklabels=False, ticks="", showline=True, mirror=True,
                  linecolor=INK, linewidth=2, fixedrange=True)
    layout[f"xaxis{suffix}"] = dict(common, domain=[left / W, right / W], range=[0, 1296], anchor=f"y{suffix}",
                                    title=dict(text="FeatureMAP1", standoff=9, font=dict(family=FONT, size=LABEL)))
    layout[f"yaxis{suffix}"] = dict(common, domain=[1 - BOTTOM / H, 1 - TOP / H], range=[0, 1293], anchor=f"x{suffix}")
    layout["annotations"].append(dict(text=panel_titles[i], x=(left + right) / 2 / W, y=1 - 53 / H, xref="paper", yref="paper",
                                      xanchor="center", yanchor="bottom", showarrow=False, font=dict(family=FONT, size=LABEL)))
    layout["annotations"].append(dict(text="FeatureMAP2", x=(left - 28) / W, y=1 - 277 / H, xref="paper", yref="paper", textangle=-90,
                                      xanchor="center", yanchor="middle", showarrow=False, font=dict(family=FONT, size=LABEL)))
fig.update_layout(**layout)
fig.write_html("out.html")
